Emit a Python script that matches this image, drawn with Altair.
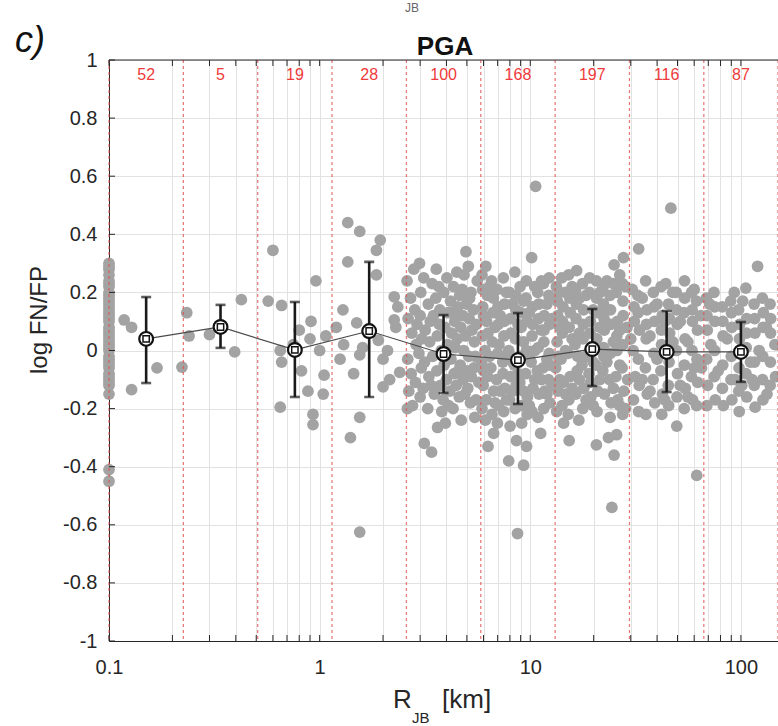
import altair as alt
import pandas as pd

# ---------------- data ----------------
bin_edges = [0.1, 0.2254, 0.5081, 1.145, 2.582, 5.82, 13.12, 29.57, 66.66, 150.0]
bin_centers = [0.1501, 0.3384, 0.7628, 1.719, 3.876, 8.738, 19.70, 44.40, 100.0]
bin_counts = [52, 5, 19, 28, 100, 168, 197, 116, 87]
bin_mean = [0.04, 0.081, 0.002, 0.067, -0.012, -0.033, 0.005, -0.005, -0.005]
bin_hi = [0.184, 0.157, 0.167, 0.305, 0.122, 0.129, 0.143, 0.136, 0.098]
bin_lo = [-0.112, 0.009, -0.16, -0.16, -0.146, -0.184, -0.122, -0.143, -0.108]

y_ticks = [-1, -0.8, -0.6, -0.4, -0.2, 0, 0.2, 0.4, 0.6, 0.8, 1]
x_ticks = [0.1, 0.2, 0.3, 0.4, 0.5, 0.6, 0.7, 0.8, 0.9,
           1, 2, 3, 4, 5, 6, 7, 8, 9,
           10, 20, 30, 40, 50, 60, 70, 80, 90, 100]
x_labels = [0.1, 1, 10, 100]

# records at R_JB = 0.1 km (left edge column)
edge_y = [0.30, 0.28, 0.26, 0.24, 0.22, 0.20, 0.18, 0.16, 0.14, 0.12, 0.10, 0.08,
          0.06, 0.04, 0.02, 0.0, -0.02, -0.04, -0.06, -0.08, -0.10, -0.12, -0.15,
          -0.41, -0.45, 0.29, 0.17, 0.11, 0.05, 0.01, -0.03, -0.09, 0.23, 0.13,
          -0.05, 0.07, 0.19, -0.11, 0.15, 0.03]

bin1 = [(0.118, 0.105), (0.128, 0.08), (0.128, -0.135), (0.169, -0.06), (0.222, -0.057)]

bin2 = [(0.234, 0.13), (0.24, 0.05), (0.3, 0.055), (0.395, -0.005), (0.425, 0.175)]

bin3 = [(0.57, 0.17), (0.6, 0.345), (0.66, 0.155), (0.96, 0.24), (0.65, 0.0), (0.66, -0.04),
        (0.91, 0.1), (0.9, 0.04), (1.07, 0.05), (0.82, -0.07), (1.05, -0.085), (0.88, -0.14),
        (1.04, -0.15), (0.65, -0.195), (0.93, -0.22), (0.93, -0.255), (0.75, 0.02),
        (0.8, 0.07), (1.0, 0.0)]

bin4 = [(1.36, 0.44), (1.55, 0.41), (1.94, 0.38), (1.86, 0.345), (1.36, 0.305), (1.86, 0.26),
        (2.26, 0.185), (1.29, 0.14), (1.5, 0.095), (2.3, 0.08), (2.26, 0.105), (1.6, 0.01),
        (1.9, 0.035), (1.2, 0.08), (1.3, 0.02), (2.0, -0.03), (1.25, -0.03), (1.55, -0.015),
        (1.55, -0.23), (1.4, -0.3), (2.0, -0.125), (2.15, -0.1), (2.4, -0.075), (1.55, -0.625),
        (1.7, 0.06), (2.1, 0.0), (1.45, -0.08), (2.35, 0.15)]

bin5 = [(2.6, 0.24), (2.63, 0.11), (2.62, -0.03), (2.65, -0.14), (2.61, -0.2),
        (2.7, 0.18), (2.74, 0.06), (2.72, -0.08), (2.76, -0.19),
        (2.83, 0.14), (2.87, 0.02), (2.85, -0.11), (2.9, 0.09),
        (2.98, 0.30), (3.02, 0.2), (3.0, 0.12), (2.96, -0.01), (3.04, -0.06), (3.0, -0.16),
        (3.12, 0.25), (3.17, 0.07), (3.15, -0.04), (3.1, -0.13), (3.14, -0.32),
        (3.28, 0.16), (3.33, 0.03), (3.3, -0.09), (3.26, -0.2), (3.35, 0.1),
        (3.42, 0.23), (3.47, 0.12), (3.44, -0.02), (3.4, -0.35), (3.5, -0.15),
        (3.58, 0.28), (3.62, 0.05), (3.6, -0.07), (3.63, -0.265), (3.56, 0.18),
        (3.72, 0.14), (3.78, 0.0), (3.75, -0.12), (3.8, -0.21), (3.7, 0.09),
        (3.88, 0.2), (3.93, 0.08), (3.9, -0.05), (3.86, -0.17),
        (4.02, 0.25), (4.08, 0.13), (4.05, 0.02), (4.0, -0.1), (4.1, -0.19),
        (4.18, 0.17), (4.23, 0.06), (4.2, -0.03), (4.15, -0.14),
        (4.32, 0.22), (4.38, 0.1), (4.35, -0.08), (4.3, -0.2), (4.4, 0.01),
        (4.48, 0.27), (4.53, 0.15), (4.5, 0.04), (4.45, -0.12),
        (4.62, 0.19), (4.68, 0.08), (4.65, -0.05), (4.6, -0.16), (4.7, -0.24),
        (4.78, 0.12), (4.83, 0.0), (4.8, -0.1), (4.75, 0.21),
        (4.95, 0.34), (4.98, 0.16), (4.92, 0.05), (5.0, -0.07), (4.9, -0.15),
        (5.08, 0.29), (5.13, 0.11), (5.1, -0.02), (5.05, -0.13),
        (5.23, 0.2), (5.28, 0.07), (5.25, -0.09), (5.2, -0.18),
        (5.38, 0.14), (5.43, 0.03), (5.4, -0.06), (5.45, -0.23),
        (5.6, 0.24), (5.55, 0.09), (5.7, -0.11), (5.52, -0.17),
        (2.8, 0.28), (3.05, 0.04), (3.38, -0.12), (3.68, 0.22), (3.95, -0.25),
        (4.28, 0.13), (4.55, -0.07), (4.85, 0.26), (5.15, 0.18), (5.48, -0.02)]

bin6 = [(5.9, 0.26), (5.95, 0.15), (5.92, 0.05), (5.88, -0.04), (5.98, -0.12), (5.9, -0.2),
        (5.94, 0.21), (6.0, -0.07),
        (6.15, 0.29), (6.25, 0.19), (6.2, 0.1), (6.1, 0.0), (6.28, -0.09), (6.18, -0.17),
        (6.3, -0.33), (6.3, 0.06), (6.12, -0.24),
        (6.55, 0.24), (6.65, 0.13), (6.6, 0.03), (6.5, -0.06), (6.7, -0.14), (6.7, -0.285),
        (6.58, -0.22), (6.68, 0.18),
        (6.95, 0.21), (7.05, 0.09), (7.0, -0.01), (6.92, -0.1), (7.08, -0.19), (7.02, 0.15),
        (6.98, -0.25), (7.1, 0.02),
        (7.45, 0.25), (7.55, 0.16), (7.5, 0.05), (7.4, -0.04), (7.58, -0.13), (7.48, -0.21),
        (7.52, 0.1), (7.42, -0.08),
        (7.95, 0.2), (8.05, 0.11), (7.9, 0.0), (8.08, -0.09), (7.98, -0.17), (7.9, -0.38),
        (8.02, -0.26), (8.1, 0.06),
        (8.45, 0.27), (8.55, 0.14), (8.5, 0.04), (8.42, -0.05), (8.58, -0.12), (8.6, -0.31),
        (8.7, -0.63), (8.48, -0.2), (8.52, 0.19),
        (8.95, 0.22), (9.05, 0.08), (9.0, -0.02), (8.92, -0.11), (9.08, -0.19), (9.3, -0.395),
        (9.02, 0.13), (9.1, -0.25),
        (9.55, 0.18), (9.65, 0.1), (9.6, 0.0), (9.5, -0.08), (9.7, -0.16), (9.6, -0.33),
        (9.58, 0.24), (9.68, -0.22),
        (10.15, 0.32), (10.25, 0.15), (10.2, 0.05), (10.1, -0.04), (10.3, -0.13),
        (10.18, -0.21), (10.6, 0.565), (10.28, 0.09),
        (10.85, 0.2), (10.95, 0.11), (10.9, 0.01), (10.8, -0.07), (11.0, -0.15),
        (11.2, -0.285), (10.88, -0.23), (10.98, 0.16),
        (11.55, 0.23), (11.65, 0.12), (11.6, 0.03), (11.5, -0.06), (11.7, -0.14),
        (11.58, -0.2), (11.62, 0.07),
        (12.25, 0.19), (12.35, 0.09), (12.3, -0.01), (12.2, -0.1), (12.4, -0.18),
        (12.28, 0.25), (12.38, -0.05),
        (6.0, 0.12), (6.4, -0.02), (6.4, 0.22), (6.8, -0.18), (6.8, 0.08), (7.2, 0.12),
        (7.2, -0.14), (7.7, 0.2), (7.7, -0.02), (7.7, -0.17), (8.25, 0.16), (8.25, -0.04),
        (8.25, -0.14), (8.75, 0.09), (8.75, -0.08), (9.3, 0.17), (9.3, 0.03), (9.3, -0.14),
        (9.9, 0.13), (9.9, -0.02), (9.9, -0.19), (10.5, 0.22), (10.5, 0.0), (10.5, -0.1),
        (11.3, 0.07), (11.3, -0.1), (11.3, 0.24), (12.0, 0.16), (12.0, -0.03), (12.0, -0.15),
        (12.7, 0.11), (12.7, -0.12)]

bin7 = [(13.3, 0.22), (13.5, 0.12), (13.4, 0.03), (13.2, -0.06), (13.55, -0.14), (13.35, -0.21),
        (13.45, 0.17), (13.6, -0.02),
        (14.1, 0.25), (14.3, 0.15), (14.2, 0.06), (14.0, -0.03), (14.35, -0.11), (14.15, -0.19),
        (14.25, 0.1), (14.4, -0.25),
        (15.2, 0.26), (15.4, 0.18), (15.3, 0.08), (15.1, -0.01), (15.45, -0.09), (15.3, -0.31),
        (15.25, -0.17), (15.5, 0.13), (15.15, -0.22),
        (16.4, 0.21), (16.6, 0.275), (16.5, 0.11), (16.3, 0.02), (16.7, -0.07), (16.45, -0.15),
        (16.55, 0.16), (16.8, -0.02),
        (17.7, 0.23), (17.9, 0.14), (17.8, 0.04), (17.6, -0.05), (17.0, -0.24), (17.95, -0.13),
        (17.75, -0.2), (17.85, 0.09),
        (19.1, 0.2), (19.3, 0.1), (19.2, 0.0), (19.0, -0.08), (19.4, -0.16), (19.15, 0.25),
        (19.25, 0.06), (19.35, -0.11),
        (20.6, 0.24), (20.8, 0.13), (20.7, 0.04), (20.5, -0.05), (20.6, -0.325), (20.9, -0.14),
        (20.75, -0.21), (20.65, 0.18),
        (22.2, 0.22), (22.4, 0.11), (22.3, 0.01), (22.1, -0.07), (22.5, -0.15), (22.25, 0.16),
        (22.35, -0.02), (22.45, 0.07),
        (23.5, -0.3), (23.9, 0.19), (24.1, 0.09), (24.0, -0.01), (23.8, -0.1), (24.4, -0.54),
        (24.2, -0.18), (24.05, 0.14), (23.95, -0.23),
        (25.0, 0.295), (25.0, -0.36), (25.7, -0.29), (25.6, 0.2), (25.9, 0.1), (25.8, 0.0),
        (25.5, -0.09), (26.0, -0.17), (25.75, 0.05),
        (27.7, 0.32), (27.4, 0.23), (27.6, 0.12), (27.5, 0.02), (27.3, -0.06), (27.8, -0.14),
        (27.45, -0.22), (27.55, 0.17), (28.8, 0.08), (29.0, -0.1),
        (13.8, 0.08), (13.8, -0.1), (13.8, 0.2), (14.7, 0.2), (14.7, 0.0), (14.7, -0.15),
        (15.8, 0.04), (15.8, -0.13), (15.8, 0.22), (17.1, 0.18), (17.1, -0.1), (17.1, 0.06),
        (18.4, 0.19), (18.4, -0.02), (18.4, -0.17), (19.9, 0.14), (19.9, -0.04), (19.9, -0.19),
        (21.4, 0.2), (21.4, 0.08), (21.4, -0.1), (23.1, 0.14), (23.1, -0.04), (23.1, 0.24),
        (24.8, 0.23), (24.8, 0.03), (24.8, -0.13), (26.6, 0.26), (26.6, 0.07), (26.6, -0.05),
        (26.6, -0.19), (28.3, 0.22), (28.3, -0.2)]

bin8 = [(30.5, 0.21), (31.2, 0.1), (30.8, 0.0), (31.5, -0.09), (30.9, -0.17), (31.1, 0.15),
        (32.7, 0.35), (32.4, 0.19), (33.0, 0.07), (32.6, -0.03), (32.9, -0.12), (32.7, -0.21),
        (32.5, 0.13),
        (35.3, 0.24), (35.8, 0.14), (35.5, 0.04), (35.2, -0.06), (35.9, -0.15), (35.6, 0.09),
        (35.4, -0.22),
        (38.4, 0.2), (38.9, 0.1), (38.6, -0.01), (38.3, -0.1), (39.0, -0.18), (38.7, 0.15),
        (41.8, 0.22), (42.3, 0.12), (42.0, 0.02), (41.7, -0.07), (42.4, -0.15), (42.1, -0.22),
        (41.9, 0.07),
        (44.0, 0.23), (45.3, 0.16), (45.9, 0.06), (45.6, -0.04), (45.2, -0.12), (46.5, 0.49),
        (45.8, 0.11), (45.4, -0.19),
        (49.3, 0.2), (49.9, 0.09), (49.6, -0.26), (49.4, 0.0), (50.0, -0.08), (49.7, -0.16),
        (49.5, 0.14),
        (54.0, 0.24), (53.7, 0.13), (54.3, 0.04), (53.9, -0.05), (54.4, -0.13), (54.1, 0.18),
        (53.8, -0.2),
        (58.3, 0.2), (58.9, 0.1), (58.6, 0.0), (58.2, -0.09), (59.0, -0.17), (58.7, 0.14),
        (61.7, -0.43), (61.5, 0.17), (62.2, 0.07), (61.9, -0.03), (62.4, -0.11), (61.6, -0.19),
        (64.5, 0.12), (65.0, -0.06),
        (30.0, 0.04), (34.0, 0.18), (34.0, -0.1), (37.0, 0.05), (37.0, -0.14), (40.0, 0.16),
        (40.0, -0.03), (43.5, 0.1), (43.5, -0.17), (47.5, 0.03), (47.5, 0.2), (51.5, -0.12),
        (51.5, 0.1), (56.0, 0.03), (56.0, -0.16), (60.0, 0.21), (60.0, -0.06)]

bin9 = [(68.5, 0.18), (69.2, 0.07), (68.8, -0.03), (69.5, -0.12), (68.9, -0.19), (69.0, 0.12),
        (74.5, 0.2), (75.3, 0.1), (75.0, 0.0), (74.7, -0.09), (75.5, -0.17), (75.1, 0.15),
        (81.5, 0.15), (82.3, 0.05), (82.0, -0.05), (81.7, -0.13), (82.5, -0.19), (82.1, 0.1),
        (89.5, 0.17), (90.4, 0.08), (90.0, -0.02), (89.7, -0.1), (90.6, -0.17), (90.2, 0.13),
        (97.5, 0.14), (98.4, 0.04), (98.0, -0.06), (97.7, -0.14), (98.6, 0.09), (98.2, -0.21),
        (105.5, 0.215), (106.5, 0.11), (106.0, 0.01), (105.7, -0.08), (106.6, -0.16),
        (106.2, 0.06),
        (115.5, 0.16), (116.6, 0.06), (116.0, -0.04), (115.7, -0.12), (116.8, -0.195),
        (116.2, 0.11),
        (120.0, 0.29), (126.5, 0.18), (127.5, 0.08), (127.0, -0.02), (126.7, -0.1),
        (127.8, 0.13), (127.2, -0.17),
        (137.5, 0.16), (138.3, 0.06), (138.0, -0.04), (137.7, -0.12), (138.5, 0.11),
        (72.0, 0.02), (78.0, -0.07), (86.0, 0.04), (94.0, -0.1), (102.0, 0.17),
        (111.0, -0.04), (122.0, 0.0), (132.0, 0.08), (71.0, 0.16), (93.0, 0.2),
        (101.0, -0.12), (113.0, -0.1), (133.0, -0.15), (145.0, 0.02), (146.0, -0.09)]

# ---------------- tables ----------------
pts = [(0.1, v) for v in edge_y] + bin1 + bin2 + bin3 + bin4 + bin5 + bin6 + bin7 + bin8 + bin9
df_pts = pd.DataFrame(pts, columns=["x", "y"])
df_stats = pd.DataFrame({"x": bin_centers, "y": bin_mean, "lo": bin_lo, "hi": bin_hi,
                         "n": bin_counts})
df_edges = pd.DataFrame({"x": bin_edges})
df_xt = pd.DataFrame({"x": x_ticks})
df_yt = pd.DataFrame({"y": y_ticks})

W, H = 669, 581
FONT = "Liberation Sans"
DARK = "#262626"

xscale = alt.Scale(type="log", domain=[0.1, 150])
yscale = alt.Scale(domain=[-1, 1])
xaxis = alt.Axis(values=x_ticks,
                 labelExpr="indexof([0.1,1,10,100], datum.value) >= 0 ? toString(datum.value) : ''",
                 grid=True, gridColor="#e2e2e2", ticks=False, domainColor=DARK,
                 labelFontSize=20, labelColor=DARK, labelPadding=16, title=None,
                 labelFlush=False, labelOverlap=False, labelFont=FONT)
yaxis = alt.Axis(values=y_ticks, labelExpr="toString(datum.value)",
                 grid=True, gridColor="#e2e2e2", ticks=False, domainColor=DARK,
                 labelFontSize=20, labelColor=DARK, labelPadding=12, title=None,
                 labelFont=FONT)

X = alt.X("x:Q", scale=xscale, axis=xaxis)
Y = alt.Y("y:Q", scale=yscale, axis=yaxis)

points = alt.Chart(df_pts).mark_circle(size=138, color="#a3a3a3", opacity=1).encode(x=X, y=Y)

edges = alt.Chart(df_edges).mark_rule(color="#e05050", strokeDash=[3, 3], strokeWidth=1.3,
                                      opacity=0.75).encode(x=X)

ticks_bottom = alt.Chart(df_xt).mark_rule(color=DARK, strokeWidth=1).encode(
    x=X, y=alt.value(H - 6), y2=alt.value(H))
ticks_top = alt.Chart(df_xt).mark_rule(color=DARK, strokeWidth=1).encode(
    x=X, y=alt.value(0), y2=alt.value(6))
ticks_left = alt.Chart(df_yt).mark_rule(color=DARK, strokeWidth=1).encode(
    y=Y, x=alt.value(0), x2=alt.value(6))
top_line = alt.Chart(df_yt.head(1)).mark_rule(color=DARK, strokeWidth=1).encode(
    x=alt.value(0), x2=alt.value(W), y=alt.value(0))

err = alt.Chart(df_stats).mark_rule(color="#1a1a1a", strokeWidth=2.6).encode(
    x=X, y=alt.Y("lo:Q", scale=yscale, axis=yaxis), y2="hi:Q")
cap_hi = alt.Chart(df_stats).mark_tick(orient="horizontal", color="#1a1a1a", thickness=2.6,
                                       size=10).encode(x=X, y=alt.Y("hi:Q", scale=yscale, axis=yaxis))
cap_lo = alt.Chart(df_stats).mark_tick(orient="horizontal", color="#1a1a1a", thickness=2.6,
                                       size=10).encode(x=X, y=alt.Y("lo:Q", scale=yscale, axis=yaxis))
mean_line = alt.Chart(df_stats).mark_line(color="#4a4a4a", strokeWidth=1.2).encode(x=X, y=Y)
mean_circ = alt.Chart(df_stats).mark_point(shape="circle", filled=True, fill="white",
                                           stroke="#111111", strokeWidth=2.2, size=190,
                                           opacity=1).encode(x=X, y=Y)
mean_sq = alt.Chart(df_stats).mark_point(shape="square", filled=False, fill="white",
                                         stroke="#111111", strokeWidth=1.5, size=40,
                                         opacity=1).encode(x=X, y=Y)

counts = alt.Chart(df_stats).mark_text(color="#ee3b3b", fontSize=16, font=FONT,
                                       baseline="middle").encode(
    x=X, y=alt.value(15), text="n:Q")

def label(txt, x, y, **kw):
    return alt.Chart(pd.DataFrame({"t": [txt]})).mark_text(font=FONT, **kw).encode(
        text="t:N", x=alt.value(x), y=alt.value(y))

panel = label("c)", -94, -8, fontSize=36, fontStyle="italic", align="left",
              baseline="alphabetic", color="#111111")
title = label("PGA", 336, -5, fontSize=26, fontWeight="bold", align="center",
              baseline="alphabetic", color="#111111")
ytitle = label("log FN/FP", -69, 260, fontSize=24, angle=270, align="center",
               baseline="middle", color=DARK)
xr = label("R", 284, 648, fontSize=26, align="left", baseline="alphabetic", color=DARK)
xjb = label("JB", 303, 663, fontSize=15, align="left", baseline="alphabetic", color=DARK)
xkm = label("[km]", 333, 648, fontSize=26, align="left", baseline="alphabetic", color=DARK)
topjb = label("JB", 296, -48, fontSize=12, align="left", baseline="alphabetic", color="#666666")

chart = alt.layer(
    points, edges, ticks_bottom, ticks_top, ticks_left, top_line,
    err, cap_hi, cap_lo, mean_line, mean_circ, mean_sq, counts,
    panel, title, ytitle, xr, xjb, xkm, topjb
).properties(
    width=W, height=H, autosize="none",
    padding={"left": 109, "top": 60, "right": 0, "bottom": 85},
    background="white"
).configure_view(stroke=None)

chart.save("out.html", embed_options={"renderer": "svg", "actions": False})
